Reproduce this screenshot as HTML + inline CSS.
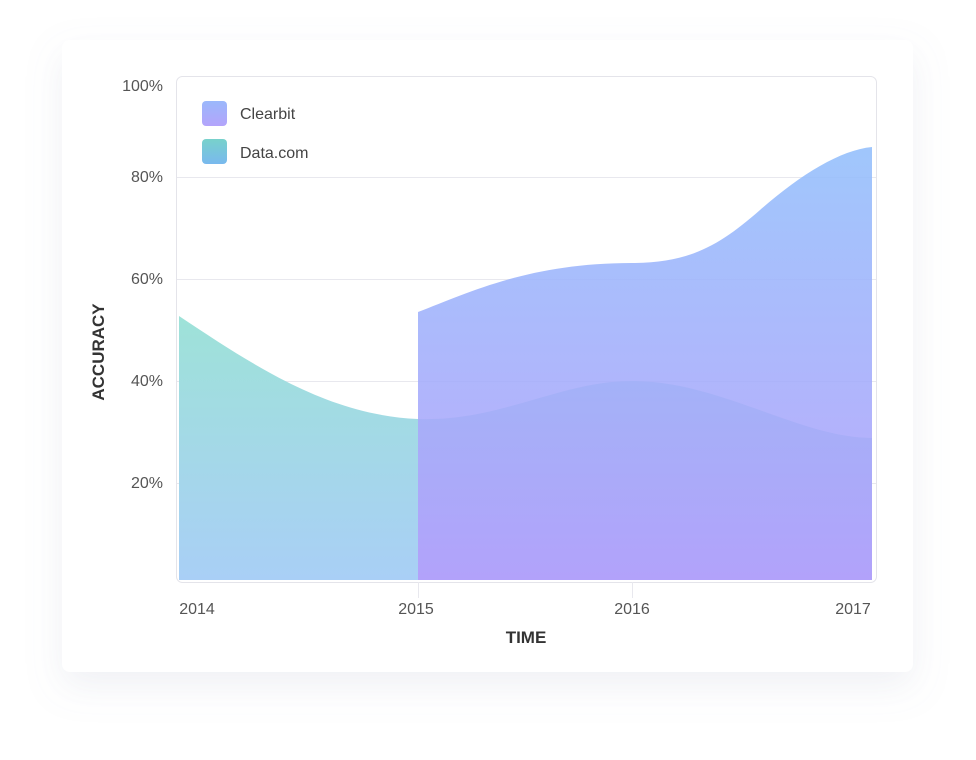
<!DOCTYPE html>
<html><head><meta charset="utf-8"><style>
html,body{margin:0;padding:0;background:#fff;width:976px;height:760px;overflow:hidden}
</style></head><body>
<svg width="976" height="760" viewBox="0 0 976 760" xmlns="http://www.w3.org/2000/svg" font-family="Liberation Sans, sans-serif">
<defs>
<filter id="sh" x="-20%" y="-20%" width="140%" height="150%"><feDropShadow dx="0" dy="14" stdDeviation="18" flood-color="#8a90b0" flood-opacity="0.13"/></filter>
<linearGradient id="gd" x1="0" y1="0" x2="0" y2="1"><stop offset="0" stop-color="#9ee2d8"/><stop offset="1" stop-color="#a9cff6"/></linearGradient>
<linearGradient id="gc" x1="0" y1="0" x2="0" y2="1"><stop offset="0" stop-color="#93bffb"/><stop offset="1" stop-color="#b39cfb"/></linearGradient>
<linearGradient id="gl1" x1="0" y1="0" x2="0" y2="1"><stop offset="0" stop-color="#9ab8fb"/><stop offset="1" stop-color="#b3a4fb"/></linearGradient>
<linearGradient id="gl2" x1="0" y1="0" x2="0" y2="1"><stop offset="0" stop-color="#78d2cb"/><stop offset="1" stop-color="#79b9ee"/></linearGradient>
</defs>
<rect x="62" y="40" width="851" height="632" rx="8" fill="#fff" filter="url(#sh)"/>
<rect x="176.5" y="76.5" width="700" height="506" rx="6" fill="#fff" stroke="#e4e4ea"/>
<g stroke="#e8e8ee" stroke-width="1">
<line x1="177" y1="177.5" x2="876" y2="177.5"/>
<line x1="177" y1="279.5" x2="876" y2="279.5"/>
<line x1="177" y1="381.5" x2="876" y2="381.5"/>
<line x1="177" y1="483.5" x2="876" y2="483.5"/>
<line x1="418.5" y1="582" x2="418.5" y2="598"/>
<line x1="632.5" y1="582" x2="632.5" y2="598"/>
</g>
<path d="M179,316 C260,370 330,415 418,419 C500,422 560,381 632,381 C720,381 800,438 872,438 L872,580 L179,580 Z" fill="url(#gd)"/>
<path d="M418,312 C470,292 530,263 632,263 C690,263 720,245 760,210 C800,175 840,150 872,147 L872,580 L418,580 Z" fill="url(#gc)" opacity="0.88"/>
<g font-size="16" fill="#555" text-anchor="end">
<text x="163" y="91">100%</text>
<text x="163" y="182">80%</text>
<text x="163" y="284">60%</text>
<text x="163" y="386">40%</text>
<text x="163" y="488">20%</text>
</g>
<g font-size="16" fill="#555" text-anchor="middle">
<text x="197" y="614">2014</text>
<text x="416" y="614">2015</text>
<text x="632" y="614">2016</text>
<text x="853" y="614">2017</text>
</g>
<text x="526" y="643" font-size="17" font-weight="bold" fill="#333" text-anchor="middle">TIME</text>
<text transform="translate(104,352) rotate(-90)" font-size="17" font-weight="bold" fill="#333" text-anchor="middle">ACCURACY</text>
<rect x="202" y="101" width="25" height="25" rx="4" fill="url(#gl1)"/>
<rect x="202" y="139" width="25" height="25" rx="4" fill="url(#gl2)"/>
<text x="240" y="119" font-size="16" fill="#444">Clearbit</text>
<text x="240" y="158" font-size="16" fill="#444">Data.com</text>
</svg>
</body></html>
